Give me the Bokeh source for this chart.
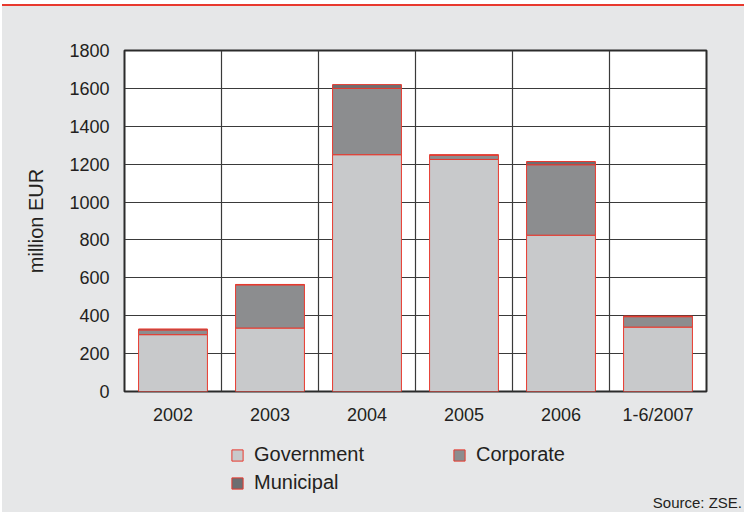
from bokeh.plotting import figure
from bokeh.layouts import column
from bokeh.models import (FixedTicker, Legend, LegendItem, Range1d, Div)
from bokeh.embed import file_html
from bokeh.resources import INLINE

categories = ["2002", "2003", "2004", "2005", "2006", "1-6/2007"]
series = ["Government", "Corporate", "Municipal"]
government = [300, 335, 1250, 1225, 825, 340]
corporate = [25, 228, 350, 22, 372, 55]
municipal = [5, 2, 20, 3, 17, 3]
y_ticks = [0, 200, 400, 600, 800, 1000, 1200, 1400, 1600, 1800]
source_note = "Source: ZSE."

FONT = "Liberation Sans"
TXT = "#231f20"
RED = "#e8392e"
BG = "#e6e7e8"
COLORS = ["#c8c9cb", "#8c8d8f", "#6d6e71"]

xs = [i + 0.5 for i in range(len(categories))]
source = dict(x=xs, Government=government, Corporate=corporate, Municipal=municipal)

# ---------------- main chart ----------------
p = figure(width=742, height=426, output_backend="svg", toolbar_location=None,
           x_range=Range1d(0, len(categories)), y_range=Range1d(0, 1800),
           min_border_left=122, min_border_right=38, min_border_top=44, min_border_bottom=41,
           margin=0)
p.border_fill_color = BG
p.background_fill_color = "white"
p.outline_line_color = "#2b2b2b"
p.outline_line_width = 2

p.vbar_stack(series, x="x", width=0.71, source=source, color=COLORS,
             line_color=RED, line_width=1)

p.yaxis.ticker = FixedTicker(ticks=y_ticks)
p.xaxis.ticker = FixedTicker(ticks=xs)
p.xaxis.major_label_overrides = {x: c for x, c in zip(xs, categories)}
for ax in (p.xaxis[0], p.yaxis[0]):
    ax.axis_line_color = None
    ax.major_tick_line_color = None
    ax.minor_tick_line_color = None
    ax.major_tick_out = 0
    ax.major_tick_in = 0
    ax.minor_tick_out = 0
    ax.minor_tick_in = 0
    ax.major_label_text_font = FONT
    ax.major_label_text_font_size = "18px"
    ax.major_label_text_color = TXT
p.yaxis.major_label_standoff = 15
p.xaxis.major_label_standoff = 13
p.yaxis.axis_label = "million EUR"
p.yaxis.axis_label_text_font = FONT
p.yaxis.axis_label_text_font_size = "20px"
p.yaxis.axis_label_text_font_style = "normal"
p.yaxis.axis_label_text_color = TXT
p.yaxis.axis_label_standoff = 19

p.ygrid.ticker = FixedTicker(ticks=y_ticks)
p.ygrid.grid_line_color = "#3a3a3a"
p.ygrid.grid_line_width = 1.2
p.xgrid.ticker = FixedTicker(ticks=list(range(1, len(categories))))
p.xgrid.grid_line_color = "#3a3a3a"
p.xgrid.grid_line_width = 1.2

# ---------------- legend strip ----------------
q = figure(width=742, height=62, output_backend="svg", toolbar_location=None,
           x_range=Range1d(0, 1), y_range=Range1d(0, 1), x_axis_type=None, y_axis_type=None,
           min_border=0, min_border_left=0, min_border_right=0, min_border_top=0,
           min_border_bottom=0, margin=0)
q.border_fill_color = BG
q.background_fill_color = BG
q.outline_line_color = None
q.grid.visible = False

swatch = {}
for name, col in zip(series, COLORS):
    # zero-size glyph outside the visible range; only its legend entry shows
    swatch[name] = q.vbar(x=[-5], top=[-5], bottom=[-5], width=0, fill_color=col,
                          line_color=RED, line_width=1)

order = ["Government", "Municipal", "Corporate"]  # column-major fill -> rows: Gov/Corp, Muni
legend = Legend(items=[LegendItem(label=n, renderers=[swatch[n]]) for n in order],
                ncols=2, location=(106, 0))
legend.label_text_font = FONT
legend.label_text_font_size = "20px"
legend.label_text_color = TXT
legend.glyph_width = 14
legend.glyph_height = 14
legend.label_standoff = 10
legend.label_width = 193
legend.label_height = 14
legend.spacing = 5
legend.padding = 0
legend.margin = 0
legend.border_line_color = None
legend.background_fill_alpha = 0
q.add_layout(legend, "center")

note = Div(text=source_note, width=742, height=18, margin=0,
           styles={"background-color": BG, "text-align": "right", "font-family": FONT,
                   "font-size": "15px", "color": TXT, "line-height": "18px",
                   "padding-right": "2px", "box-sizing": "border-box"})

top_line = Div(text="", width=742, height=2, margin=(4, 0, 0, 2),
               styles={"background-color": RED})

body = column(p, q, note, spacing=0, margin=(0, 0, 0, 2), styles={"background-color": BG})
layout = column(top_line, body, spacing=0)
open("out.html", "w").write(file_html(layout, INLINE))
